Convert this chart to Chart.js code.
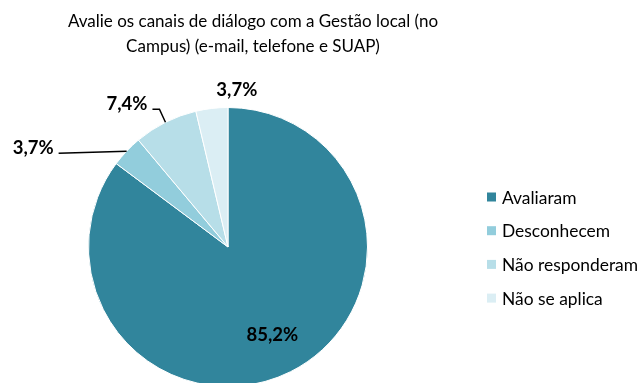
<!DOCTYPE html>
<html>
<head>
<meta charset="utf-8">
<script src="https://cdn.jsdelivr.net/npm/chart.js@4/dist/chart.umd.min.js"></script>
<style>
  html, body { margin: 0; padding: 0; background: #fff; overflow: hidden; }
  #wrap { width: 641px; height: 383px; overflow: hidden; }
</style>
</head>
<body>
<div id="wrap"><canvas id="pie" width="641" height="400"></canvas></div>
<script>
(function () {
    "use strict";

    const categories = ["Avaliaram", "Desconhecem", "Não responderam", "Não se aplica"];
    const shares = [85.2, 3.7, 7.4, 3.7];
    const titleLines = [
        "Avalie os canais de diálogo com a Gestão local (no",
        "Campus) (e-mail, telefone e SUAP)",
    ];

    const colors = ["#31859c", "#92cddc", "#b7dee8", "#dbeef4"];
    const FONT = "Lato, 'Open Sans', sans-serif";

    const fmt = (v) => v.toFixed(1).replace(".", ",") + "%";

    // Where each slice's label goes: inside the slice, or outside with a leader line
    const labelPlacement = [
        { inside: true, r: 0.71 },
        { dx: -68, dy: -3, line: true },
        { dx: -13, dy: -18, elbow: [-6, -13], line: true },
        { dx: 25, dy: -18, line: false },
    ];

    const decorations = {
        id: "decorations",
        afterDraw(chart) {
            const ctx = chart.ctx;
            ctx.save();

            // Title
            ctx.fillStyle = "#000";
            ctx.font = "17px " + FONT;
            ctx.textAlign = "center";
            ctx.textBaseline = "middle";
            titleLines.forEach((line, i) => ctx.fillText(line, 253, 22 + i * 25));

            // Legend
            ctx.font = "17.4px " + FONT;
            ctx.textAlign = "left";
            categories.forEach((name, i) => {
                const y = 197 + i * 33.7;
                ctx.fillStyle = colors[i];
                ctx.fillRect(487, y - 4.5, 9, 9);
                ctx.fillStyle = "#000";
                ctx.fillText(name, 502, y + 1);
            });

            // Value labels
            ctx.font = "bold 18.5px " + FONT;
            ctx.strokeStyle = "#000";
            ctx.lineWidth = 1.5;
            chart.getDatasetMeta(0).data.forEach((arc, i) => {
                const p = arc.getProps(["x", "y", "startAngle", "endAngle", "outerRadius"], true);
                const mid = (p.startAngle + p.endAngle) / 2;
                const place = labelPlacement[i];
                const text = fmt(shares[i]);
                ctx.fillStyle = "#000";
                if (place.inside) {
                    const r = p.outerRadius * place.r;
                    ctx.textAlign = "center";
                    ctx.fillText(text, p.x + r * Math.cos(mid), p.y + r * Math.sin(mid));
                    return;
                }
                const ex = p.x + p.outerRadius * Math.cos(mid);
                const ey = p.y + p.outerRadius * Math.sin(mid);
                const lx = ex + place.dx;
                const ly = ey + place.dy;
                if (place.line) {
                    ctx.textAlign = "right";
                    ctx.fillText(text, lx - 5, ly);
                    ctx.beginPath();
                    ctx.moveTo(lx, ly + 5);
                    if (place.elbow) {
                        ctx.lineTo(ex + place.elbow[0], ey + place.elbow[1]);
                    }
                    ctx.lineTo(ex, ey);
                    ctx.stroke();
                } else {
                    ctx.textAlign = "center";
                    ctx.fillText(text, lx, ly);
                }
            });

            ctx.restore();
        },
    };

    new Chart(document.getElementById("pie"), {
        type: "pie",
        data: {
            labels: categories,
            datasets: [{
                data: shares,
                backgroundColor: colors,
                borderColor: "#fff",
                borderWidth: 1,
            }],
        },
        options: {
            responsive: false,
            animation: false,
            layout: { padding: { top: 107, left: 88, right: 273, bottom: 13 } },
            plugins: {
                legend: { display: false },
                tooltip: { enabled: false },
                title: { display: false },
            },
        },
        plugins: [decorations],
    });
})();
</script>
</body>
</html>
